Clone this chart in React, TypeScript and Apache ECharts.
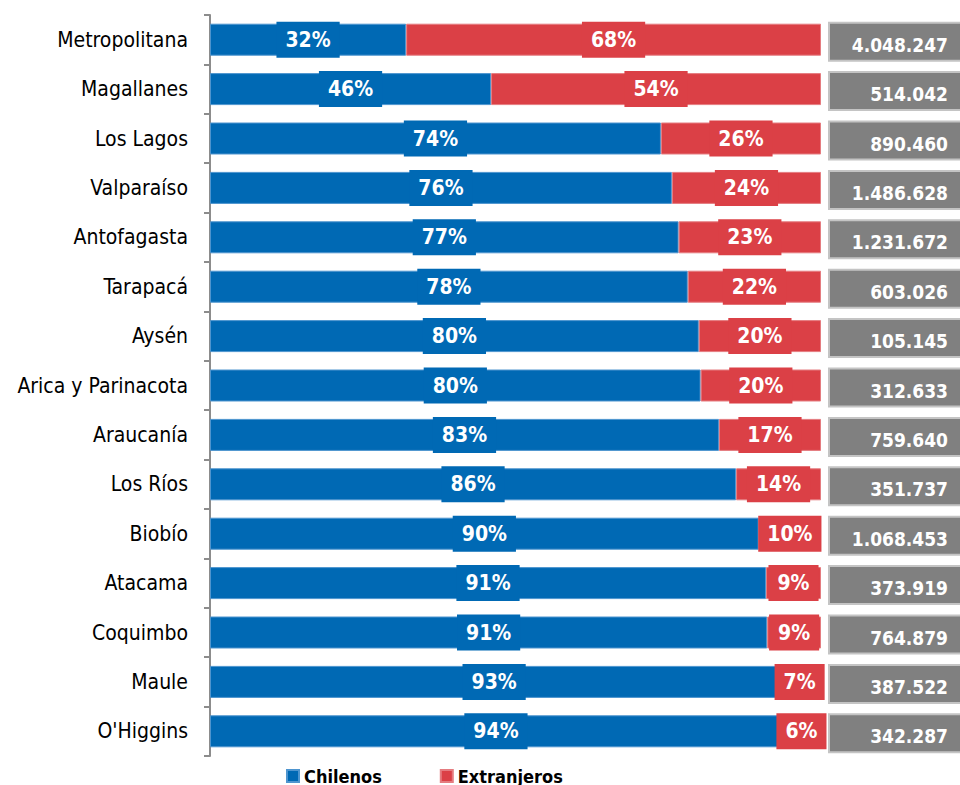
import React, { useEffect, useRef } from "react";
import * as echarts from "echarts";

const regions = [
  "Metropolitana",
  "Magallanes",
  "Los Lagos",
  "Valparaíso",
  "Antofagasta",
  "Tarapacá",
  "Aysén",
  "Arica y Parinacota",
  "Araucanía",
  "Los Ríos",
  "Biobío",
  "Atacama",
  "Coquimbo",
  "Maule",
  "O'Higgins",
];
const chilenos = [32.1, 46, 73.8, 75.6, 76.7, 78.2, 80, 80.3, 83.3, 86.1, 89.8, 91, 91.2, 93, 93.6];
const extranjeros = [67.9, 54, 26.2, 24.4, 23.3, 21.8, 20, 19.7, 16.7, 13.9, 10.2, 9, 8.8, 7, 6.4];
const totals = [
  4048247, 514042, 890460, 1486628, 1231672, 603026, 105145, 312633, 759640, 351737,
  1068453, 373919, 764879, 387522, 342287,
];

const BLUE = "#0069B4";
const RED = "#DB4046";
const FONT = "'Liberation Sans Narrow', 'Arial Narrow', 'DejaVu Sans Condensed', sans-serif";

function fmt(n: number): string {
  return String(n).replace(/\B(?=(\d{3})+(?!\d))/g, ".");
}

export default function App() {
  const ref = useRef<HTMLDivElement>(null);
  useEffect(() => {
    if (!ref.current) return;
    const chart = echarts.init(ref.current, null, { renderer: "svg" });
    const pctLabel = (color: string) => ({
      show: true,
      position: "inside" as const,
      formatter: (p: any) => Math.round(p.value) + "%",
      color: "#fff",
      fontFamily: FONT,
      fontWeight: "bold" as const,
      fontSize: 21,
      backgroundColor: color,
      padding: [8, 9, 7, 9],
    });
    chart.setOption({
      animation: false,
      legend: {
        data: ["Chilenos", "Extranjeros"],
        left: 281,
        top: 762,
        itemWidth: 12,
        itemHeight: 12,
        itemGap: 58,
        icon: "rect",
        textStyle: { fontFamily: FONT, fontWeight: "bold", fontSize: 18, color: "#000", padding: [0, 0, 0, 0] },
      },
      grid: { left: 210, right: 139, top: 15, bottom: 29, containLabel: false },
      xAxis: { type: "value", min: 0, max: 100, show: false },
      yAxis: {
        type: "category",
        data: regions,
        inverse: true,
        axisLine: { show: true, lineStyle: { color: "#8C8C8C", width: 2 } },
        axisTick: { show: true, length: 6, lineStyle: { color: "#8C8C8C", width: 2 } },
        axisLabel: { color: "#000", fontSize: 21, fontFamily: FONT, margin: 22 },
      },
      series: [
        {
          name: "Chilenos",
          type: "bar",
          stack: "t",
          data: chilenos,
          barWidth: 32,
          itemStyle: { color: BLUE, borderColor: "#4E95CF", borderWidth: 1 },
          label: pctLabel(BLUE),
        },
        {
          name: "Extranjeros",
          type: "bar",
          stack: "t",
          data: extranjeros,
          barWidth: 32,
          itemStyle: { color: RED, borderColor: "#E57C80", borderWidth: 1 },
          label: pctLabel(RED),
        },
        {
          name: "Total",
          type: "custom",
          data: totals.map((t, i) => [100, i, t]),
          encode: { x: 0, y: 1 },
          renderItem: (params: any, api: any) => {
            const pt = api.coord([api.value(0), api.value(1)]);
            const x = pt[0] + 8;
            const y = pt[1] - 17;
            return {
              type: "group",
              children: [
                {
                  type: "rect",
                  shape: { x, y, width: 140, height: 38 },
                  style: { fill: "#808080", stroke: "#C4C4C4", lineWidth: 2 },
                },
                {
                  type: "text",
                  style: {
                    x: 948,
                    y: y + 22,
                    text: fmt(api.value(2)),
                    fill: "#fff",
                    font: "bold 19px " + FONT,
                    align: "right",
                    verticalAlign: "middle",
                  },
                },
              ],
            };
          },
        },
      ],
    });
    return () => chart.dispose();
  }, []);
  return <div ref={ref} style={{ width: 960, height: 785, position: "absolute", left: 0, top: 0 }} />;
}
